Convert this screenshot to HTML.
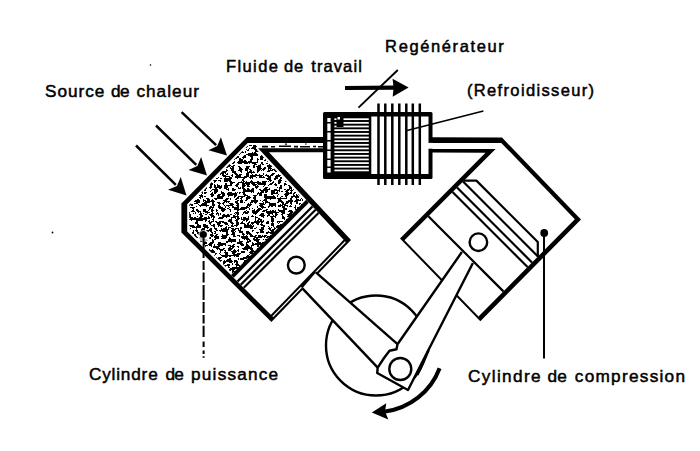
<!DOCTYPE html>
<html><head><meta charset="utf-8"><style>
html,body{margin:0;padding:0;background:#fff;}
svg{display:block;}
text{font-family:"Liberation Sans",sans-serif;fill:#000;stroke:#000;stroke-width:0.5px;}
</style></head><body>
<svg width="700" height="451" viewBox="0 0 700 451">
<defs>
<filter id="noise" x="0" y="0" width="700" height="451" filterUnits="userSpaceOnUse">
<feTurbulence type="fractalNoise" baseFrequency="0.28" numOctaves="4" seed="11" result="n"/>
<feColorMatrix type="matrix" values="0 0 0 0 0  0 0 0 0 0  0 0 0 0 0  12 0 0 0 -5.72" in="n"/>
<feComponentTransfer><feFuncA type="discrete" tableValues="0 1"/></feComponentTransfer>
</filter>
<pattern id="stip" patternUnits="userSpaceOnUse" width="700" height="451">
<rect width="700" height="451" fill="#000" filter="url(#noise)"/>
</pattern>
</defs>
<rect width="700" height="451" fill="#fff"/>
<polygon points="247.00,137.00 323.00,137.00 323.00,152.20 269.00,152.20 351.00,240.00 271.40,322.00 181.40,232.40 181.40,203.50" fill="#000"/>
<polygon points="247.64,142.90 323.00,142.90 323.00,148.30 258.11,148.30 343.61,239.86 270.92,314.75 187.20,231.40 187.20,204.17" fill="#fff"/>
<polygon points="248.48,144.90 256.96,144.90 256.96,150.00 306.24,202.76 233.91,275.09 189.20,230.57 189.20,204.99" fill="url(#stip)"/>
<polygon points="306.20,199.80 308.86,202.64 233.75,277.75 231.00,275.00" fill="#000"/>
<polygon points="311.66,205.64 313.25,207.35 238.31,282.29 236.66,280.64" fill="#000"/>
<polygon points="314.80,209.00 316.29,210.61 241.47,285.43 239.92,283.88" fill="#000"/>
<polygon points="317.74,212.16 319.24,213.76 244.53,288.47 242.97,286.93" fill="#000"/>
<polygon points="345.87,242.27 344.98,241.32 315.31,271.88 316.29,272.74" fill="#fff"/>
<polygon points="301.80,287.67 300.90,286.72 272.33,316.16 273.26,317.07" fill="#fff"/>
<path d="M262 146.6h6M271 146.8h4M279 146.3h12M294 146.6h4M300 146.8h10M313 146.5h3M318 146.8h5" stroke="#000" stroke-width="1.6"/>
<path d="M285 144.2h2M305 144h1.5" stroke="#000" stroke-width="1.2"/>
<circle cx="296.3" cy="265.1" r="8.4" fill="none" stroke="#000" stroke-width="2.4"/>
<polygon points="431.00,137.20 502.00,137.60 581.00,219.50 480.30,321.30 400.00,238.50 485.50,152.80 431.00,152.50" fill="#000"/>
<polygon points="431.00,142.90 501.28,142.90 574.85,219.18 478.50,316.57 404.48,240.24 495.61,148.90 431.00,148.90" fill="#fff"/>
<polyline points="463.98,180.60 476.40,180.60 537.80,242.00 537.80,256.63" fill="none" stroke="#000" stroke-width="2.2" stroke-linejoin="round"/>
<line x1="463.04" y1="181.54" x2="537.96" y2="256.46" stroke="#000" stroke-width="2.2" />
<line x1="457.05" y1="187.55" x2="532.00" y2="262.50" stroke="#000" stroke-width="2.2" />
<line x1="452.55" y1="192.05" x2="527.52" y2="267.02" stroke="#000" stroke-width="2.2" />
<line x1="428.33" y1="216.33" x2="503.40" y2="291.40" stroke="#000" stroke-width="2.2" />
<circle cx="478.4" cy="242.2" r="8.8" fill="none" stroke="#000" stroke-width="2.4"/>
<rect x="323" y="112" width="109.5" height="67" rx="1.5" fill="#000"/>
<rect x="327.3" y="118" width="3.3" height="4" fill="#fff"/>
<rect x="327.3" y="123.5" width="3.3" height="7.5" fill="#fff"/>
<rect x="327.3" y="132.5" width="3.3" height="7.5" fill="#fff"/>
<rect x="327.3" y="141.5" width="3.3" height="8.0" fill="#fff"/>
<rect x="327.3" y="151" width="3.3" height="7.5" fill="#fff"/>
<rect x="327.3" y="160" width="3.3" height="6.5" fill="#fff"/>
<rect x="327.3" y="168" width="3.3" height="4.5" fill="#fff"/>
<rect x="334.4" y="118.30" width="34.4" height="1.75" fill="#fff"/>
<rect x="334.4" y="121.96" width="34.4" height="1.75" fill="#fff"/>
<rect x="334.4" y="125.62" width="34.4" height="1.75" fill="#fff"/>
<rect x="334.4" y="129.28" width="34.4" height="1.75" fill="#fff"/>
<rect x="334.4" y="132.94" width="34.4" height="1.75" fill="#fff"/>
<rect x="334.4" y="136.60" width="34.4" height="1.75" fill="#fff"/>
<rect x="334.4" y="140.26" width="34.4" height="1.75" fill="#fff"/>
<rect x="334.4" y="143.92" width="34.4" height="1.75" fill="#fff"/>
<rect x="334.4" y="147.58" width="34.4" height="1.75" fill="#fff"/>
<rect x="334.4" y="151.24" width="34.4" height="1.75" fill="#fff"/>
<rect x="334.4" y="154.90" width="34.4" height="1.75" fill="#fff"/>
<rect x="334.4" y="158.56" width="34.4" height="1.75" fill="#fff"/>
<rect x="334.4" y="162.22" width="34.4" height="1.75" fill="#fff"/>
<rect x="334.4" y="165.88" width="34.4" height="1.75" fill="#fff"/>
<rect x="334.4" y="169.54" width="34.4" height="1.75" fill="#fff"/>
<rect x="336.5" y="117" width="7" height="10" fill="#000"/>
<rect x="337.5" y="117" width="2.5" height="2.5" fill="#fff"/>
<rect x="371.3" y="116.5" width="57.2" height="57.5" fill="#fff"/>
<rect x="377.25" y="103.5" width="2.5" height="81.5" fill="#000"/>
<rect x="384.05" y="103.5" width="2.5" height="81.5" fill="#000"/>
<rect x="391.05" y="103.5" width="2.5" height="81.5" fill="#000"/>
<rect x="398.05" y="103.5" width="2.5" height="81.5" fill="#000"/>
<rect x="405.05" y="103.5" width="2.5" height="81.5" fill="#000"/>
<rect x="411.55" y="103.5" width="2.5" height="81.5" fill="#000"/>
<rect x="418.55" y="103.5" width="2.5" height="81.5" fill="#000"/>
<rect x="426" y="142.9" width="7" height="5.8" fill="#fff"/>
<circle cx="376" cy="345.5" r="50" fill="none" stroke="#000" stroke-width="2.4"/>
<polygon points="315.90,272.40 397.50,344.20 377.70,367.60 302.40,288.30" fill="#fff"/>
<polyline points="315.90,272.40 397.50,344.20" fill="none" stroke="#000" stroke-width="2.4" />
<polyline points="302.40,288.30 377.70,367.60" fill="none" stroke="#000" stroke-width="2.4" />
<polygon points="461.90,252.00 397.50,344.20 396.50,349.30 389.50,350.70 384.00,358.00 377.70,367.60 377.20,373.00 408.00,390.00 472.90,263.00" fill="#fff"/>
<polyline points="461.90,252.00 397.50,344.20 396.50,349.30 389.50,350.70 384.00,358.00 377.70,367.60 377.20,373.00 408.00,390.00 472.90,263.00" fill="none" stroke="#000" stroke-width="2.4" stroke-linejoin="round"/>
<circle cx="400.3" cy="369" r="11" fill="#fff" stroke="#000" stroke-width="2.4"/>
<polyline points="428.60,350.00 423.50,362.00 417.20,375.00" fill="none" stroke="#000" stroke-width="2.6" />
<line x1="181.60" y1="112.20" x2="216.13" y2="145.06" stroke="#000" stroke-width="2.5" /><polygon points="227.00,155.40 208.48,150.20 217.22,146.09 220.89,137.16" fill="#000"/>
<line x1="156.00" y1="125.50" x2="196.28" y2="164.91" stroke="#000" stroke-width="2.5" /><polygon points="207.00,175.40 188.55,169.94 197.35,165.96 201.14,157.08" fill="#000"/>
<line x1="136.00" y1="145.50" x2="175.83" y2="184.86" stroke="#000" stroke-width="2.5" /><polygon points="186.50,195.40 168.08,189.85 176.90,185.91 180.73,177.05" fill="#000"/>
<line x1="345.00" y1="88.00" x2="394.60" y2="87.61" stroke="#000" stroke-width="4.2" /><polygon points="408.60,87.50 392.67,96.63 393.60,87.62 392.53,78.63" fill="#000"/>
<line x1="397.80" y1="70.00" x2="358.50" y2="107.60" stroke="#000" stroke-width="1.9" />
<line x1="483.40" y1="111.00" x2="407.00" y2="130.50" stroke="#000" stroke-width="1.7" />
<circle cx="204" cy="236" r="6" fill="#fff" opacity="0.75"/>
<circle cx="203.3" cy="234.5" r="3.6" fill="#000"/>
<path d="M203.6 238v20M203.6 261v9M203.6 272.5v10M203.6 285v15M203.6 302v11M203.6 315v8.5M203.6 325.8v11.2M203.6 341.4v5.6M203.6 350.6v3.4M203.6 356.3v1.4" stroke="#000" stroke-width="2"/>
<circle cx="52.5" cy="232.5" r="0.9" fill="#000"/>
<circle cx="150.5" cy="65" r="0.8" fill="#000"/>
<circle cx="544.2" cy="233" r="3.9" fill="#000"/>
<line x1="544.00" y1="233.00" x2="544.00" y2="358.50" stroke="#000" stroke-width="2.0" />
<path d="M439.6 368.2 A 68 68 0 0 1 385 411.5" fill="none" stroke="#000" stroke-width="4"/>
<polygon points="371.80,412.60 386.30,403.20 385.00,411.30 388.30,419.50" fill="#000"/>
<text x="45.00" y="97.0" textLength="59.30" lengthAdjust="spacing" style="font-size:17.2px">Source</text>
<text x="111.10" y="97.0" textLength="18.50" lengthAdjust="spacing" style="font-size:17.2px">de</text>
<text x="136.40" y="97.0" textLength="62.60" lengthAdjust="spacing" style="font-size:17.2px">chaleur</text>
<text x="226.00" y="71.7" textLength="51.90" lengthAdjust="spacing" style="font-size:16.5px">Fluide</text>
<text x="283.90" y="71.7" textLength="19.20" lengthAdjust="spacing" style="font-size:16.5px">de</text>
<text x="311.30" y="71.7" textLength="50.50" lengthAdjust="spacing" style="font-size:16.5px">travail</text>
<text x="385.10" y="51.5" textLength="118.70" lengthAdjust="spacing" style="font-size:16.5px">Regénérateur</text>
<text x="466.90" y="95.8" textLength="127.20" lengthAdjust="spacing" style="font-size:16.5px">(Refroidisseur)</text>
<text x="88.90" y="379.5" textLength="68.80" lengthAdjust="spacing" style="font-size:17.2px">Cylindre</text>
<text x="165.40" y="379.5" textLength="18.40" lengthAdjust="spacing" style="font-size:17.2px">de</text>
<text x="191.10" y="379.5" textLength="87.00" lengthAdjust="spacing" style="font-size:17.2px">puissance</text>
<text x="468.00" y="382.0" textLength="72.60" lengthAdjust="spacing" style="font-size:17.2px">Cylindre</text>
<text x="547.40" y="382.0" textLength="19.30" lengthAdjust="spacing" style="font-size:17.2px">de</text>
<text x="574.80" y="382.0" textLength="110.20" lengthAdjust="spacing" style="font-size:17.2px">compression</text>
</svg>
</body></html>
